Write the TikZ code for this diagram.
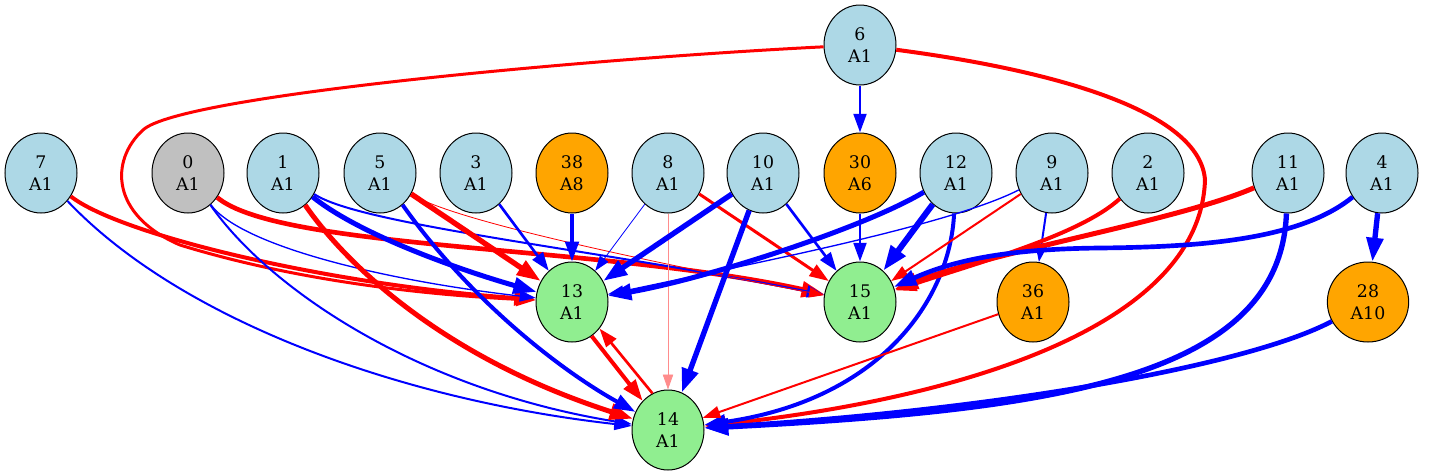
\documentclass[tikz,border=0pt]{standalone}
\usepackage{fontspec}
\setmainfont{DejaVu Serif}
\usetikzlibrary{arrows.meta,shapes.geometric}
\definecolor{lblue}{RGB}{173,216,230}
\definecolor{lgreen}{RGB}{144,238,144}
\definecolor{gvorange}{RGB}{255,165,0}
\definecolor{gvgray}{RGB}{192,192,192}

\begin{document}
\begin{tikzpicture}[x=0.75pt,y=-0.75pt,
    >={Triangle[length=10pt 2,width=7pt 1.3]},
    state/.style={ellipse,draw,line width=0.75pt,minimum width=54pt,minimum height=60pt,
        inner sep=0pt,align=center,font=\fontsize{13}{16.5}\selectfont},
    agent/.style={state,fill=lblue},
    start/.style={state,fill=gvgray},
    hold/.style={state,fill=gvorange},
    goal/.style={state,fill=lgreen},
    redarc/.style={->,red},
    bluearc/.style={->,blue}]
    \useasboundingbox (0,0) rectangle (1432,475);

    % top row
    \node[agent] (n6) at (860,45) {6\\A1};

    % second row
    \node[agent] (n7) at (41,173) {7\\A1};
    \node[start] (n0) at (188,173) {0\\A1};
    \node[agent] (n1) at (283,173) {1\\A1};
    \node[agent] (n5) at (380,173) {5\\A1};
    \node[agent] (n3) at (476,173) {3\\A1};
    \node[hold] (n38) at (572,173) {38\\A8};
    \node[agent] (n8) at (668,173) {8\\A1};
    \node[agent] (n10) at (763,173) {10\\A1};
    \node[hold] (n30) at (860,173) {30\\A6};
    \node[agent] (n12) at (956,173) {12\\A1};
    \node[agent] (n9) at (1052,173) {9\\A1};
    \node[agent] (n2) at (1148,173) {2\\A1};
    \node[agent] (n11) at (1288,173) {11\\A1};
    \node[agent] (n4) at (1382,173) {4\\A1};

    % third row
    \node[goal] (n13) at (572,302) {13\\A1};
    \node[goal] (n15) at (860,302) {15\\A1};
    \node[hold] (n36) at (1033,302) {36\\A1};
    \node[hold,minimum width=61pt] (n28) at (1368,302) {28\\A10};

    % bottom
    \node[goal] (n14) at (668,430) {14\\A1};

    \draw[bluearc,line width=2pt] (n6) -- (n30);
    \draw[redarc,line width=2.25pt] (n6) .. controls (600,58) and (180,95) .. (143,130)
        .. controls (110,160) and (110,215) .. (180,245) .. controls (300,282) and (430,295) .. (n13);
    \draw[redarc,line width=3pt] (n6) .. controls (1050,70) and (1200,110) .. (1205,180)
        .. controls (1200,330) and (950,400) .. (n14);

    \draw[redarc,line width=3pt] (n7) .. controls (120,235) and (330,285) .. (n13);
    \draw[bluearc,line width=1.5pt] (n7) .. controls (180,320) and (400,400) .. (n14);

    \draw[redarc,line width=3.5pt] (n0) .. controls (280,250) and (600,245) .. (n15);
    \draw[bluearc,line width=1.5pt] (n0) .. controls (270,290) and (420,390) .. (n14);
    \draw[bluearc,line width=1pt] (n0) .. controls (240,245) and (380,280) .. (n13);

    \draw[bluearc,line width=3.75pt] (n1) .. controls (360,235) and (460,270) .. (n13);
    \draw[bluearc,line width=1.5pt] (n1) .. controls (360,225) and (600,250) .. (n15);
    \draw[redarc,line width=3.75pt] (n1) .. controls (350,270) and (450,360) .. (n14);

    \draw[redarc,line width=4pt] (n5) -- (n13);
    \draw[bluearc,line width=3pt] (n5) .. controls (470,300) and (560,370) .. (n14);
    \draw[redarc,line width=0.6pt] (n5) .. controls (450,220) and (650,262) .. (n15);

    \draw[bluearc,line width=2pt] (n3) -- (n13);
    \draw[bluearc,line width=2.5pt] (n38) -- (n13);
    \draw[bluearc,line width=0.6pt] (n8) -- (n13);
    \draw[->,red!45,line width=0.6pt] (n8) -- (n14);
    \draw[redarc,line width=2.25pt] (n8) -- (n15);

    \draw[bluearc,line width=4pt] (n10) -- (n13);
    \draw[bluearc,line width=4pt] (n10) -- (n14);
    \draw[bluearc,line width=2pt] (n10) -- (n15);
    \draw[bluearc,line width=2pt] (n30) -- (n15);

    \draw[bluearc,line width=3.75pt] (n12) .. controls (860,230) and (700,280) .. (n13);
    \draw[bluearc,line width=4.5pt] (n12) -- (n15);
    \draw[bluearc,line width=3pt] (n12) .. controls (950,300) and (880,400) .. (n14);

    \draw[bluearc,line width=1pt] (n9) .. controls (950,225) and (760,262) .. (n13);
    \draw[redarc,line width=1.5pt] (n9) -- (n15);
    \draw[bluearc,line width=1.5pt] (n9) -- (n36);

    \draw[redarc,line width=3pt] (n2) .. controls (1080,235) and (980,262) .. (n15);
    \draw[redarc,line width=3.75pt] (n11) .. controls (1180,220) and (1000,250) .. (n15);
    \draw[bluearc,line width=4pt] (n11) .. controls (1280,380) and (1050,410) .. (n14);

    \draw[bluearc,line width=3.5pt] (n4) .. controls (1300,240) and (1200,247) .. (1100,248)
        .. controls (1000,249) and (950,262) .. (n15);
    \draw[bluearc,line width=4pt] (n4) -- (n28);
    \draw[bluearc,line width=3.5pt] (n28) .. controls (1250,365) and (1000,410) .. (n14);
    \draw[redarc,line width=1.5pt] (n36) -- (n14);

    \draw[redarc,line width=3pt] (n13.-60) -- (n14.131);
    \draw[redarc,line width=2pt] (n14.113) -- (n13.-44);
\end{tikzpicture}
\end{document}
